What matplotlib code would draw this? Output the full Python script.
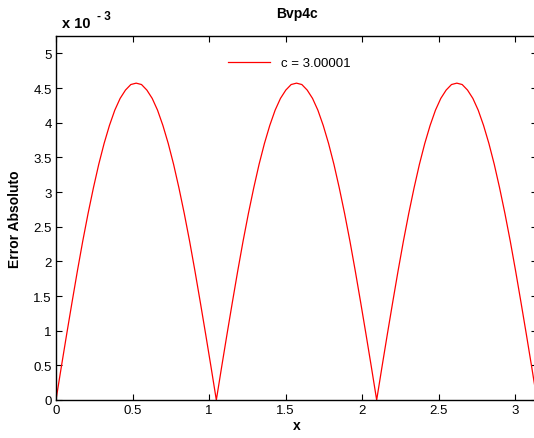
import matplotlib
matplotlib.use('Agg')
import matplotlib.pyplot as plt
import numpy as np

plt.rcParams['font.family'] = ['Liberation Sans', 'DejaVu Sans']

# error, in units of 1e-3 (one arch, repeated three times)
arch = [0, 0.48, 0.95, 1.41, 1.86, 2.29, 2.69, 3.06, 3.40, 3.70, 3.96,
        4.18, 4.35, 4.47, 4.55, 4.57, 4.55, 4.47, 4.35, 4.18, 3.96,
        3.70, 3.40, 3.06, 2.69, 2.29, 1.86, 1.41, 0.95, 0.48]
err = arch * 3 + [0]
x = np.linspace(0, np.pi, len(err))
label = "c = 3.00001"
xticks = [0, 0.5, 1, 1.5, 2, 2.5, 3]
yticks = [0, 0.5, 1, 1.5, 2, 2.5, 3, 3.5, 4, 4.5, 5]

fig = plt.figure(figsize=(5.34, 4.39), dpi=100)
ax = fig.add_axes([56 / 534, 38 / 439, 481 / 534, 364 / 439])
ax.plot(x, err, color='red', lw=0.9, label=label)
ax.set_xlim(0, np.pi)
ax.set_ylim(0, 5.25)
ax.set_xticks(xticks)
ax.set_xticklabels([f"{t:g}" for t in xticks])
ax.set_yticks(yticks)
ax.set_yticklabels([f"{t:g}" for t in yticks])
ax.tick_params(direction='in', length=4, width=0.8, labelsize=9.5,
               top=True, right=True, pad=3)
for s in ax.spines.values():
    s.set_linewidth(1.0)

ax.set_title("Bvp4c", fontsize=10, fontweight='bold', pad=14)
ax.set_xlabel("x", fontsize=10, fontweight='bold', labelpad=1)
ax.set_ylabel("Error Absoluto", fontsize=10, fontweight='bold', labelpad=8)
fig.text(62 / 534, 1 - 28 / 439, "x 10", fontsize=10.5, fontweight='bold')
fig.text(97 / 534, 1 - 20 / 439, "- 3", fontsize=8.5, fontweight='bold')

leg = ax.legend(loc='upper center', frameon=False, fontsize=9.5,
                handlelength=3.2, bbox_to_anchor=(0.485, 0.975))

plt.savefig("out.png", dpi=100)
